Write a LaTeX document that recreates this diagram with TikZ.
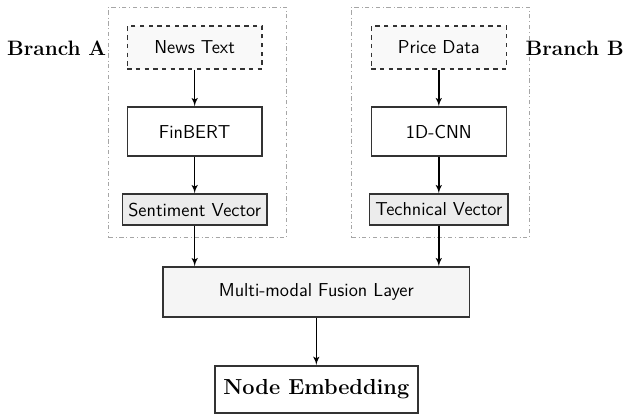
\documentclass[tikz,border=0pt]{standalone}
\usepackage{amsmath}
\usepackage{tikz}
\usetikzlibrary{shapes, arrows}
\usetikzlibrary{positioning}
\usepackage{xcolor}

\begin{document}
\begin{tikzpicture}[
        boxfont/.style={font=\sffamily\fontsize{12.9}{15}\selectfont},
        titlefont/.style={font=\rmfamily\bfseries\fontsize{14.4}{17}\selectfont},
        branchbox/.style={draw=gray!70, dash dot, thin, minimum width=4.32cm, minimum height=5.58cm},
        inputbox/.style={draw=black!80, line width=1pt, dashed, fill=gray!5, minimum width=3.27cm, minimum height=1.04cm, boxfont},
        modelbox/.style={draw=black!80, line width=1pt, fill=white, minimum width=3.27cm, minimum height=1.19cm, boxfont},
        vecbox/.style={draw=black!80, line width=1pt, fill=gray!15, minimum height=0.75cm, inner xsep=4pt, boxfont},
        flow/.style={-latex', line width=1pt, black}
    ]\sffamily

        \useasboundingbox (0,0) rectangle (15.13,10.06);

        \node[branchbox] (frameA) at (4.79,7.10) {};
        \node[branchbox] (frameB) at (10.68,7.10) {};

        \node[inputbox] (news)  at (4.72,8.91) {News Text};
        \node[modelbox] (bert)  at (4.72,6.87) {FinBERT};
        \node[vecbox]   (sent)  at (4.72,4.98) {Sentiment Vector};

        \node[inputbox] (price) at (10.64,8.91) {Price Data};
        \node[modelbox] (cnn)   at (10.64,6.87) {1D-CNN};
        \node[vecbox]   (tech)  at (10.64,4.98) {Technical Vector};

        \node[anchor=east, titlefont] (labA) at (2.70,8.88) {Branch A};
        \node[anchor=west, titlefont] (labB) at (12.62,8.88) {Branch B};

        \node[draw=black!80, line width=1pt, fill=gray!8, minimum width=7.44cm, minimum height=1.21cm, boxfont] (fusion) at (7.67,2.98) {Multi-modal Fusion Layer};
        \node[draw=black!80, line width=1pt, fill=white, minimum width=4.92cm, minimum height=1.14cm, font=\rmfamily\bfseries\fontsize{15}{18}\selectfont] (embed) at (7.67,0.62) {Node Embedding};

        \draw[flow] (news) to (bert);
        \draw[flow] (bert) to (sent);
        \draw[flow] (price) to (cnn);
        \draw[flow] (cnn) to (tech);
        \draw[flow] (sent) to (sent.south |- fusion.north);
        \draw[flow] (tech) to (tech.south |- fusion.north);
        \draw[flow] (fusion) to (embed);

    \end{tikzpicture}
\end{document}
